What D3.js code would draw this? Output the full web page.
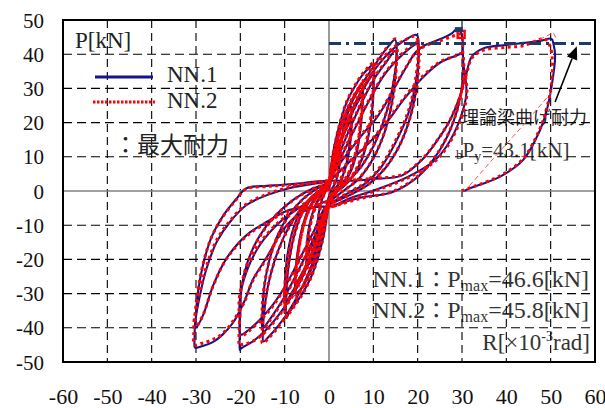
<!DOCTYPE html>
<html><head><meta charset="utf-8">
<script src="https://cdn.jsdelivr.net/npm/d3@7"></script>
<style>body{margin:0;background:#fff}svg{display:block}</style>
</head><body><svg id="c" width="605" height="408"></svg>
<script>
const xTicks=[-60,-50,-40,-30,-20,-10,0,10,20,30,40,50,60];
const yTicks=[-50,-40,-30,-20,-10,0,10,20,30,40,50];
const yieldLoad=43.1;
const maxPts=[{name:"NN.1",r:29.3,p:46.6},{name:"NN.2",r:29.8,p:45.8}];
const arrowPts=[[51.0,26.0],[55.9,42.3]];

const nn1=[
[0,0],
[0.5,4],[1.2,7.5],[1.9,9.8],[2.5,11],[2.5,9.5],[2.2,6],[1.6,3],[0.8,0.8],[0,-1.5],
[-0.6,-4.5],[-1.3,-7.5],[-2,-9.2],[-2.5,-10],[-2.5,-8.5],[-2.1,-5],[-1.5,-2.2],[-0.7,0],[0,1.5],
[0.3,4],[1,9.5],[2,15],[3,19.5],[4,22.5],[5,24.6],[5,21],[4.8,16],[4.3,10.5],[3.4,5.5],[2.2,2],[1,0],[0,-2.5],
[-0.4,-5],[-1.2,-10],[-2.2,-14.5],[-3.3,-18.5],[-4.3,-21],[-5,-22],[-5,-18.5],[-4.7,-13.5],[-4.1,-8.5],[-3.2,-4.5],[-2,-1.5],[-1,0.2],[0,2],
[0.5,5],[1.5,10],[3,15.5],[4.2,19],[5,21],[5,17.5],[4.6,12],[3.8,7],[2.6,3],[1.2,0.3],[0,-2.5],
[-0.5,-5],[-1.6,-9.5],[-3,-14],[-4.2,-17],[-5,-19],[-5,-15.5],[-4.5,-10.5],[-3.6,-6],[-2.3,-2.5],[-1,0],[0,2],
[0.4,6],[1.3,12],[2.6,18.5],[4,23.5],[5.5,27.5],[6.6,29.8],[7.5,31],[7.6,27],[7.3,21],[6.7,14.5],[5.6,8.5],[4,3.8],[2.2,0.8],[0,-2.5],
[-0.4,-6],[-1.3,-12],[-2.6,-18],[-4,-23],[-5.5,-27],[-6.6,-29],[-7.5,-30],[-7.6,-26],[-7.2,-20],[-6.5,-13.5],[-5.4,-8],[-3.8,-3.5],[-2,-0.5],[0,2.5],
[0.6,6],[2,12.5],[3.8,18.5],[5.5,23.5],[6.7,26.5],[7.5,28],[7.5,24],[7.1,18],[6.3,11.5],[5,6],[3.2,2],[1.4,0],[0,-3],
[-0.6,-6],[-2,-12],[-3.8,-18],[-5.5,-22.5],[-6.7,-25.5],[-7.5,-27],[-7.5,-23],[-7,-17],[-6.1,-11],[-4.7,-5.5],[-3,-1.8],[-1.3,0.3],[0,2.5],
[0.3,6],[1.2,13],[2.5,20],[4,26],[5.8,30.5],[7.6,34],[9,36],[10,37],[10.1,32],[9.9,26],[9.3,19],[8.2,12.5],[6.6,7],[4.6,3],[2.4,0.5],[0,-3],
[-0.3,-6],[-1.2,-13],[-2.5,-19.5],[-4,-25],[-5.8,-29.5],[-7.6,-33],[-9,-35.5],[-9.6,-37.2],[-9.6,-30],[-9.3,-24],[-8.6,-17.5],[-7.4,-11],[-5.7,-5.5],[-3.6,-1.8],[-1.6,0.5],[0,2.5],
[0.7,6],[2.2,13],[4.2,20],[6.3,26],[8.3,31],[10,34],[10,30],[9.7,23],[8.9,16],[7.5,9.5],[5.5,4.5],[3.2,1.2],[1,-0.8],[0,-3],
[-0.7,-6],[-2.2,-12.5],[-4.2,-19],[-6.3,-25],[-8.3,-29.5],[-10,-33],[-10,-28],[-9.6,-21],[-8.7,-14],[-7.2,-8],[-5.2,-3.5],[-2.9,-0.5],[-1,1],[0,2.5],
[0.2,4.2],[2.1,11],[3.2,17.8],[4.7,24.6],[6.6,29.5],[8.5,33.4],[11.1,38.3],[13,41.7],[14.9,44.2],[15.3,40],[14.8,34],[13.8,27],[12.2,20],[10,13],[7.5,7.5],[4.8,3.5],[2.2,0.5],[0,-3.5],
[-0.3,-5.5],[-1.5,-12],[-3,-18.5],[-4.8,-24.5],[-6.8,-30],[-9,-35],[-11.5,-39.5],[-13.5,-42.5],[-14.8,-44],[-14.9,-41],[-14.6,-35],[-13.8,-28],[-12.3,-20.5],[-10.2,-13.5],[-7.6,-7.5],[-4.8,-3],[-2.2,0],[0,3],
[1,6],[3,13],[5.3,20],[7.8,27],[10.3,33],[12.8,37.5],[15,41],[15.1,37],[14.7,30],[13.6,22],[11.8,14.5],[9.3,8],[6.3,3],[3.2,0],[0,-3.5],
[-1,-6],[-3,-12.5],[-5.3,-19],[-7.8,-25.5],[-10.3,-31.5],[-12.8,-36.5],[-15,-40],[-15,-35],[-14.6,-28],[-13.5,-20.5],[-11.6,-13],[-9,-7],[-6,-2.5],[-3,0.5],[0,2.5],
[0.5,5],[2,12],[3.8,19],[6,26],[8.5,32],[11.2,37],[14,41],[16.8,43.8],[19.8,45.6],[20.2,40.3],[19.4,30.5],[17.9,22.7],[14.9,13.9],[11.5,6.5],[8,2],[4.5,-0.5],[0,-4],
[-0.5,-5],[-2,-12],[-4,-19],[-6.3,-26],[-9,-32],[-11.8,-37],[-14.5,-41],[-17.2,-44],[-19.8,-46],[-20.1,-46.5],[-20.1,-40],[-20.1,-31.4],[-18.6,-23.6],[-15.6,-15.8],[-11,-9],[-5.8,-4.1],[-2.5,-1],[0,2],
[1,5],[3.5,12],[6.5,20],[9.5,27.5],[12.5,34],[15.5,38.5],[18,41.5],[20,43],[20.2,38],[19.6,29],[18.2,21],[15.8,13],[12.6,6.5],[9,2],[5,-1],[0,-4],
[-1,-5],[-3.5,-12],[-6.5,-19.5],[-9.5,-27],[-12.5,-33],[-15.5,-37.5],[-18,-40.5],[-20,-42],[-20,-36],[-19.7,-28],[-18.3,-20.5],[-15.6,-13],[-12,-7],[-8,-2.5],[-4,0.5],[0,2.5],
[0.5,4],[3,9],[6,14],[8.5,18],[10.4,20.8],[12.3,24.5],[14.1,28.6],[16,33],[17.9,37.3],[19.5,40.5],[21.7,42.7],[24.7,44.2],[27.7,46.1],[28.8,47.3],[29.9,46],[30.2,40],[30.3,37.3],[31,28.6],[29.5,20.8],[26.5,13],[23.9,9],[17.9,4.2],[10.4,0.3],[5,-2],[0,-4.5],
[-0.5,-3],[-3,-4.5],[-6.5,-6.5],[-10.4,-11.4],[-14,-19.3],[-17.2,-26],[-19,-32],[-21.7,-38.6],[-24,-42],[-26.2,-44.2],[-28.5,-45.3],[-30.2,-45.8],[-30.3,-43],[-30.2,-38.6],[-29.1,-30.4],[-27.6,-22.6],[-25.3,-14.8],[-22.3,-9],[-18.6,-4.1],[-14,-1.2],[-8.8,0.9],[-4,2],[0,3],
[1,4],[5,9],[9,14],[13,20],[17,27],[21,33],[25,37.5],[28.5,39.5],[30,40],[30.2,35],[29.7,28],[28,20],[25,12],[20.5,4.7],[14.5,-0.2],[7,-2],[0,-4.5],
[-2,-4.6],[-8.8,-5.5],[-14,-9],[-18.6,-12.9],[-23.1,-19.7],[-26.1,-27.5],[-28.4,-36.3],[-30,-40],[-30,-36],[-29.5,-29],[-28.3,-21],[-26.5,-13.5],[-24,-7.5],[-21,-2.5],[-18.6,0.8],[-14,1.5],[-11,1.75],[-7,2.2],[-3.6,2.7],[0,3],
[5,3],[10,3.5],[16.4,4.5],[20.9,9],[24,14],[27,20],[29.5,27.6],[31,34.4],[32.2,39.3],[34.8,41.7],[40,42.7],[44,43.3],[47.6,43.9],[50.2,44.5],[50.6,43.2],[51,39.3],[50.2,30.5],[49,23],[47.6,17.8],[43.8,9.1],[38.6,4.2],[34,1.8],[31.8,0.8],[30.5,0]
];

const nn2=[
[0,0],
[0.6,4.5],[1.3,8],[2,10],[2.5,11.5],[2.5,9.8],[2.1,6.2],[1.5,3.2],[0.7,0.6],[0,-1.8],
[-0.6,-4.8],[-1.4,-8],[-2.1,-9.6],[-2.5,-10.4],[-2.5,-8.8],[-2,-5.2],[-1.4,-2],[-0.6,0.2],[0,1.8],
[0.4,4.5],[1.1,10],[2.1,15.5],[3.1,20],[4.1,23],[5,24],[5,20.5],[4.7,15.5],[4.2,10],[3.3,5],[2.1,1.8],[0.9,-0.2],[0,-2.8],
[-0.5,-5.5],[-1.3,-10.5],[-2.3,-15],[-3.4,-19],[-4.4,-21.5],[-5,-22.5],[-5,-19],[-4.6,-13.8],[-4,-8.8],[-3.1,-4.8],[-1.9,-1.6],[-0.9,0.3],[0,2.2],
[0.6,5.5],[1.6,10.5],[3.1,16],[4.3,19.5],[5,21.5],[5,18],[4.5,12.5],[3.7,7.2],[2.5,3.2],[1.1,0.4],[0,-2.8],
[-0.6,-5.5],[-1.7,-10],[-3.1,-14.5],[-4.3,-17.5],[-5,-19.5],[-5,-16],[-4.4,-11],[-3.5,-6.3],[-2.2,-2.8],[-0.9,-0.1],[0,2.2],
[0.5,6.5],[1.4,12.5],[2.7,19],[4.1,24],[5.6,28],[6.7,30.2],[7.5,31.5],[7.6,27.5],[7.2,21.5],[6.6,15],[5.5,9],[3.9,4],[2.1,0.9],[0,-2.8],
[-0.5,-6.5],[-1.4,-12.5],[-2.7,-18.5],[-4.1,-23.5],[-5.6,-27.5],[-6.7,-29.5],[-7.5,-30.5],[-7.6,-26.5],[-7.1,-20.5],[-6.4,-14],[-5.3,-8.3],[-3.7,-3.7],[-1.9,-0.6],[0,2.7],
[0.7,6.5],[2.1,13],[3.9,19],[5.6,24],[6.8,27],[7.5,28.5],[7.5,24.5],[7,18.5],[6.2,12],[4.9,6.3],[3.1,2.2],[1.3,0],[0,-3.2],
[-0.7,-6.5],[-2.1,-12.5],[-3.9,-18.5],[-5.6,-23],[-6.8,-26],[-7.5,-27.5],[-7.5,-23.5],[-6.9,-17.5],[-6,-11.5],[-4.6,-5.8],[-2.9,-2],[-1.2,0.2],[0,2.7],
[0.4,6.5],[1.3,13.5],[2.6,20.5],[4.1,26.5],[5.9,31],[7.7,34.5],[9.1,36.5],[10,37.5],[10.1,32.5],[9.8,26.5],[9.2,19.5],[8.1,13],[6.5,7.3],[4.5,3.2],[2.3,0.6],[0,-3.2],
[-0.4,-6.5],[-1.3,-13.5],[-2.6,-20],[-4.1,-25.5],[-5.9,-30],[-7.7,-33.5],[-9.1,-36],[-9.8,-37],[-9.8,-30.5],[-9.4,-24.5],[-8.7,-18],[-7.5,-11.5],[-5.8,-5.8],[-3.7,-2],[-1.7,0.4],[0,2.7],
[0.8,6.5],[2.3,13.5],[4.3,20.5],[6.4,26.5],[8.4,31.5],[10,34.5],[10,30.5],[9.6,23.5],[8.8,16.5],[7.4,10],[5.4,4.8],[3.1,1.3],[0.9,-0.9],[0,-3.2],
[-0.8,-6.5],[-2.3,-13],[-4.3,-19.5],[-6.4,-25.5],[-8.4,-30],[-10,-33.5],[-10,-28.5],[-9.5,-21.5],[-8.6,-14.5],[-7.1,-8.3],[-5.1,-3.7],[-2.8,-0.6],[-0.9,1.1],[0,2.7],
[0.3,4.5],[2.2,11.5],[3.3,18.3],[4.8,25],[6.7,30],[8.6,34],[11.2,38.8],[13.1,42],[15,44.5],[15.4,40.5],[14.9,34.5],[13.9,27.5],[12.3,20.5],[10.1,13.5],[7.6,7.8],[4.9,3.7],[2.3,0.6],[0,-3.7],
[-0.4,-6],[-1.6,-12.5],[-3.1,-19],[-4.9,-25],[-6.9,-30.5],[-9.1,-35.5],[-11.6,-40],[-13.6,-43],[-15,-44.5],[-15.1,-41.5],[-14.7,-35.5],[-13.9,-28.5],[-12.4,-21],[-10.3,-14],[-7.7,-7.8],[-4.9,-3.2],[-2.3,-0.2],[0,3.2],
[1.1,6.5],[3.1,13.5],[5.4,20.5],[7.9,27.5],[10.4,33.5],[12.9,38],[15,41.5],[15.2,37.5],[14.8,30.5],[13.7,22.5],[11.9,15],[9.4,8.3],[6.4,3.2],[3.3,0.1],[0,-3.7],
[-1.1,-6.5],[-3.1,-13],[-5.4,-19.5],[-7.9,-26],[-10.4,-32],[-12.9,-37],[-15,-40.5],[-15.1,-35.5],[-14.7,-28.5],[-13.6,-21],[-11.7,-13.5],[-9.1,-7.3],[-6.1,-2.7],[-3.1,0.4],[0,2.7],
[0.6,5.5],[2.1,12.5],[3.9,19.5],[6.1,26.5],[8.6,32.5],[11.3,37.5],[14.1,41.5],[16.9,44],[19.6,45.2],[20.1,40.5],[19.3,31],[17.8,23],[14.8,14.2],[11.4,6.8],[7.9,2.2],[4.4,-0.4],[0,-4.2],
[-0.6,-5.5],[-2.1,-12.5],[-4.1,-19.5],[-6.4,-26.5],[-9.1,-32.5],[-11.9,-37.5],[-14.6,-41.5],[-17.3,-44],[-19.8,-45],[-20.2,-45.3],[-20.2,-39],[-20.2,-31],[-18.7,-23.3],[-15.7,-15.5],[-11.1,-8.8],[-5.9,-4],[-2.6,-0.9],[0,2.2],
[1.1,5.5],[3.6,12.5],[6.6,20.5],[9.6,28],[12.6,34.5],[15.6,39],[18.1,42],[20,43.5],[20.3,38.5],[19.7,29.5],[18.3,21.5],[15.9,13.3],[12.7,6.8],[9.1,2.2],[5.1,-0.8],[0,-4.2],
[-1.1,-5.5],[-3.6,-12.5],[-6.6,-20],[-9.6,-27.5],[-12.6,-33.5],[-15.6,-38],[-18.1,-41],[-20,-42.5],[-20.1,-36.5],[-19.8,-28.5],[-18.4,-21],[-15.7,-13.5],[-12.1,-7.3],[-8.1,-2.7],[-4.1,0.4],[0,2.7],
[0.6,4.2],[3.1,9.5],[6.1,14.5],[8.6,18.5],[10.5,21.5],[12.4,25],[14.2,29],[16.1,33.5],[18,37.5],[19.6,40.5],[21.8,42.5],[24.8,43.8],[27.8,45.2],[29.8,45.8],[30.1,44.5],[30.2,39.5],[30.4,37],[31.1,28.3],[29.6,20.5],[26.6,12.8],[24,8.8],[18,4],[10.5,0.1],[5.1,-2.2],[0,-4.7],
[-0.6,-3.3],[-3.1,-4.8],[-6.6,-6.8],[-10.5,-11.8],[-14.1,-19.8],[-17.3,-26.5],[-19.1,-32.5],[-21.8,-38.3],[-24.1,-41.8],[-26.3,-43.5],[-28.6,-44.5],[-30.4,-45],[-30.5,-42.5],[-30.4,-37.5],[-29.2,-30],[-27.7,-22.3],[-25.4,-14.5],[-22.4,-8.8],[-18.7,-3.9],[-14.1,-1],[-8.9,1.1],[-4.1,2.2],[0,3.2],
[1.1,4.2],[5.1,9.3],[9.1,14.3],[13.1,20.5],[17.1,27.5],[21.1,33.5],[25.1,37.8],[28.6,39.5],[30,40.2],[30.3,35.5],[29.8,28.5],[28.1,20.5],[25.1,12.3],[20.6,5],[14.6,0],[7.1,-2.2],[0,-4.7],
[-2.1,-4.8],[-8.9,-5.8],[-14.1,-9.3],[-18.7,-13.3],[-23.2,-20],[-26.2,-28],[-28.5,-36.5],[-30.2,-40],[-30.2,-36.3],[-29.6,-29.3],[-28.4,-21.3],[-26.6,-13.8],[-24.1,-7.8],[-21.1,-2.8],[-18.7,0.6],[-14.1,1.3],[-11.1,1.6],[-7.1,2],[-3.7,2.5],[0,2.8],
[5.1,3.2],[10.1,3.7],[16.5,4.8],[21,9.3],[24.1,14.3],[27.1,20.3],[29.6,27.8],[31.1,34.6],[32.3,39],[34.9,41.2],[40,42],[44,42.5],[47.5,44.3],[48.6,44.6],[49.8,42.5],[50.4,38],[50.1,30.5],[48.9,23.2],[47.5,18],[43.7,9.3],[38.5,4.4],[33.9,1.9],[31.7,0.9],[30,0]
];
const nn2ThinTop=[[47.5,44.3],[50.6,46.3],[51.4,44.2]];
const nn2ThinTail=[[50.3,29],[44,19.5],[37,9.4],[31,0.5]];

const svg=d3.select("#c");
const L=63,R=595,T=20,B=362;
const x=d3.scaleLinear().domain([-60,60]).range([L,R]);
const y=d3.scaleLinear().domain([-50,50]).range([B,T]);
const serif="'Liberation Serif','Times New Roman',serif";
const cjk="'Noto Sans CJK JP',sans-serif";

svg.append("rect").attr("width",605).attr("height",408).attr("fill","#fff");

// annotation texts (under grid and curves)
svg.append("text").attr("x",461).attr("y",124).attr("font-family",cjk).attr("font-size",18).attr("fill","#222").text("理論梁曲げ耐力");
const py=svg.append("text").attr("x",456).attr("y",157).attr("font-family",serif).attr("font-size",21).attr("fill","#333");
py.append("tspan").attr("font-size",13).attr("dy",2).text("b");
py.append("tspan").attr("dy",-2).text("P");
py.append("tspan").attr("font-size",14).attr("dy",4).text("y");
py.append("tspan").attr("dy",-4).text("=43.1[kN]");

function maxText(yb,name,val){
  const t=svg.append("text").attr("x",589).attr("y",yb).attr("text-anchor","end").attr("font-family",serif).attr("font-size",24).attr("fill","#333");
  t.append("tspan").text(name);
  t.append("tspan").attr("font-family",cjk).attr("font-size",22).text("：");
  t.append("tspan").text("P");
  t.append("tspan").attr("font-size",16).attr("dy",4).text("max");
  t.append("tspan").attr("dy",-4).text("="+val+"[kN]");
}
maxText(287,maxPts[0].name,maxPts[0].p.toFixed(1));
maxText(318,maxPts[1].name,maxPts[1].p.toFixed(1));
const t3=svg.append("text").attr("x",590).attr("y",350).attr("text-anchor","end").attr("font-family",serif).attr("font-size",23).attr("fill","#333");
t3.append("tspan").text("R[×10");
t3.append("tspan").attr("font-size",14).attr("dy",-9).text("-3");
t3.append("tspan").attr("dy",9).text("rad]");

// grid
const g=svg.append("g");
g.selectAll(".vg").data(xTicks.filter(d=>d!==0&&d!==-60&&d!==60)).join("line")
 .attr("x1",d=>x(d)).attr("x2",d=>x(d)).attr("y1",T).attr("y2",B)
 .attr("stroke","#000").attr("stroke-width",1.1).attr("stroke-dasharray","8,5");
g.selectAll(".hg").data(yTicks.filter(d=>d!==0&&d!==-50&&d!==50)).join("line")
 .attr("y1",d=>y(d)).attr("y2",d=>y(d)).attr("x1",L).attr("x2",R)
 .attr("stroke","#000").attr("stroke-width",1.1).attr("stroke-dasharray","9,5");
g.append("line").attr("x1",x(0)).attr("x2",x(0)).attr("y1",T).attr("y2",B).attr("stroke","#808080").attr("stroke-width",1.6);
g.append("line").attr("y1",y(0)).attr("y2",y(0)).attr("x1",L).attr("x2",R).attr("stroke","#808080").attr("stroke-width",1.6);

// curves
const line=d3.line().x(d=>x(d[0])).y(d=>y(d[1])).curve(d3.curveCatmullRom.alpha(0.5));
svg.append("path").attr("d",line(nn1)).attr("fill","none").attr("stroke","#14148c").attr("stroke-width",2.1).attr("stroke-linejoin","round");
svg.append("path").attr("d",line(nn2)).attr("fill","none").attr("stroke","#ff0000").attr("stroke-width",3).attr("stroke-dasharray","3,3.5");
const lin=d3.line().x(d=>x(d[0])).y(d=>y(d[1]));
[nn2ThinTop,nn2ThinTail].forEach(a=>svg.append("path").attr("d",lin(a)).attr("fill","none").attr("stroke","#ff5050").attr("stroke-width",1).attr("stroke-dasharray","5,3"));

// yield line
svg.append("line").attr("x1",x(0)).attr("x2",R-1).attr("y1",y(yieldLoad)).attr("y2",y(yieldLoad))
 .attr("stroke","#1b3a66").attr("stroke-width",3).attr("stroke-dasharray","12,5,3,5");

// max markers
svg.append("rect").attr("x",x(maxPts[1].r)-3.5).attr("y",y(maxPts[1].p)-3.5).attr("width",7).attr("height",7).attr("fill","none").attr("stroke","#ff0000").attr("stroke-width",2.4);
svg.append("rect").attr("x",x(maxPts[0].r)-4).attr("y",y(maxPts[0].p)-4.5).attr("width",8).attr("height",5).attr("fill","#1b3a66");

// arrow
const [a0,a1]=arrowPts.map(p=>[x(p[0]),y(p[1])]);
const dx=a1[0]-a0[0],dy=a1[1]-a0[1],len=Math.hypot(dx,dy),ux=dx/len,uy=dy/len;
const hb=[a1[0]-13*ux,a1[1]-13*uy];
svg.append("line").attr("x1",a0[0]).attr("y1",a0[1]).attr("x2",hb[0]).attr("y2",hb[1]).attr("stroke","#000").attr("stroke-width",1.6);
svg.append("polygon").attr("points",[a1,[hb[0]-5.5*uy,hb[1]+5.5*ux],[hb[0]+5.5*uy,hb[1]-5.5*ux]].map(p=>p.join(",")).join(" ")).attr("fill","#000");

// frame
svg.append("rect").attr("x",L).attr("y",T).attr("width",R-L).attr("height",B-T).attr("fill","none").attr("stroke","#000").attr("stroke-width",2);

// axes labels
const fmt=d=>String(d);
const xa=svg.append("g").attr("transform",`translate(0,${B})`).call(d3.axisBottom(x).tickValues(xTicks).tickSize(0).tickFormat(fmt));
xa.select(".domain").remove();
xa.selectAll("text").attr("y",42).attr("dy",0).attr("font-family",serif).attr("font-size",22).attr("fill","#111");
const ya=svg.append("g").attr("transform",`translate(${L},0)`).call(d3.axisLeft(y).tickValues(yTicks).tickSize(0).tickFormat(fmt));
ya.select(".domain").remove();
ya.selectAll("text").attr("x",-19).attr("dy","0.34em").attr("font-family",serif).attr("font-size",21).attr("fill","#111");

// legend
svg.append("text").attr("x",75).attr("y",48).attr("font-family",serif).attr("font-size",23).attr("fill","#222").text("P[kN]");
svg.append("line").attr("x1",95).attr("x2",153).attr("y1",77).attr("y2",77).attr("stroke","#14148c").attr("stroke-width",2.8);
svg.append("text").attr("x",167).attr("y",82).attr("font-family",serif).attr("font-size",23).attr("fill","#222").text("NN.1");
svg.append("line").attr("x1",93).attr("x2",155).attr("y1",102).attr("y2",102).attr("stroke","#ff0000").attr("stroke-width",3).attr("stroke-dasharray","2.5,1.5");
svg.append("text").attr("x",167).attr("y",108).attr("font-family",serif).attr("font-size",23).attr("fill","#222").text("NN.2");
svg.append("text").attr("x",114).attr("y",153).attr("font-family",cjk).attr("font-size",23).attr("fill","#222").text("：最大耐力");
</script></body></html>
